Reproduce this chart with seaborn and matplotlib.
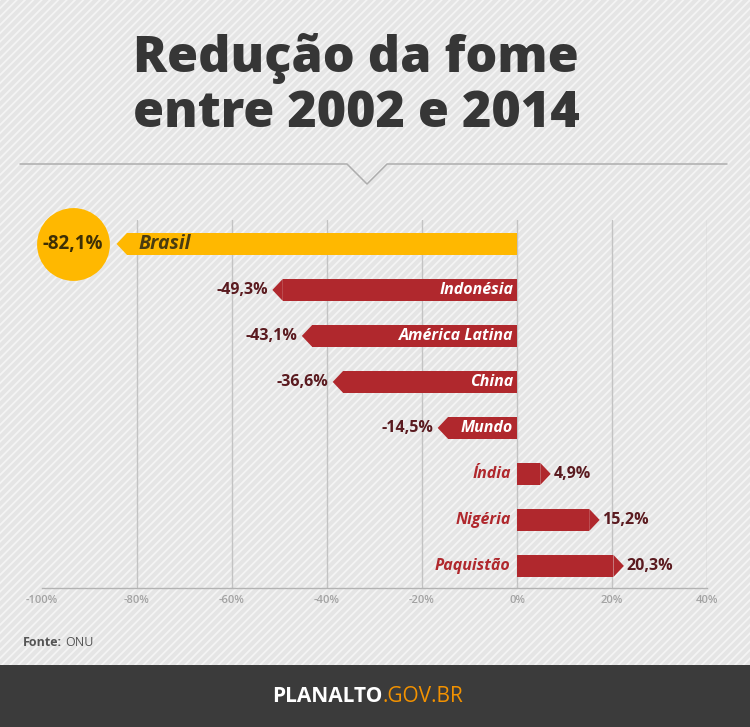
import matplotlib
matplotlib.use("Agg")
import matplotlib.pyplot as plt
from matplotlib.patches import Polygon, Rectangle
import seaborn as sns

# data
countries = ['Brasil', 'Indonésia', 'América Latina', 'China', 'Mundo', 'Índia', 'Nigéria', 'Paquistão']
changes = [-82.1, -49.3, -43.1, -36.6, -14.5, 4.9, 15.2, 20.3]
xticks = [-100, -80, -60, -40, -20, 0, 20, 40]
xtick_labels = ['-100%', '-80%', '-60%', '-40%', '-20%', '0%', '20%', '40%']

YELLOW = '#ffb800'
RED = '#b0282d'
palette = {c: (YELLOW if c == 'Brasil' else RED) for c in countries}

sns.set_theme(style='white')
plt.rcParams['font.family'] = ['Open Sans', 'DejaVu Sans']
plt.rcParams['hatch.linewidth'] = 1.3
plt.rcParams['hatch.color'] = '#f4f4f4'

W, H = 750, 727
fig = plt.figure(figsize=(W / 100, H / 100), dpi=100)
fig.patch.set_facecolor('#e5e5e5')

# background / decoration layer in pixel coordinates
bg = fig.add_axes([0, 0, 1, 1], zorder=0)
bg.set_xlim(0, W)
bg.set_ylim(H, 0)
bg.axis('off')
bg.add_patch(Rectangle((0, 0), W, H, facecolor='#e5e5e5', edgecolor='#f4f4f4', hatch='////', lw=0))
bg.add_patch(Rectangle((0, 665), W, H - 665, facecolor='#3b3b3b', lw=0, zorder=2))
bg.plot([20, 347, 367, 387, 727], [164, 164, 184, 164, 164], color='#adadad', lw=1.1)
bg.text(133, 72, 'Redução da fome', fontsize=36.2, fontweight='heavy', color='#363636', va='baseline')
bg.text(133, 127, 'entre 2002 e 2014', fontsize=36.2, fontweight='heavy', color='#363636', va='baseline')
bg.text(23, 643, 'Fonte:', fontsize=9, fontweight='bold', color='#555555', va='center')
bg.text(65, 643, 'ONU', fontsize=9, color='#555555', va='center')
bg.text(383, 697, 'PLANALTO', fontsize=15, fontweight='bold', color='white', ha='right', va='center', zorder=3)
bg.text(383, 697, '.GOV.BR', fontsize=15, color='#f39200', ha='left', va='center', zorder=3)

# chart axes: 0% at x=517px, 4.75 px per percent
ax = fig.add_axes([42 / W, 1 - 588 / H, 665 / W, 368 / H], zorder=1)
ax.set_facecolor('none')
bar_h = 0.48
sns.barplot(x=changes, y=countries, hue=countries, palette=palette, orient='h',
            width=bar_h, linewidth=0, saturation=1, legend=False, ax=ax, zorder=3)
ax.set_xlim(-100, 40)
ax.set_ylim(7.48, -0.52)

for g in xticks[1:]:
    ax.axvline(g, color='#c3c3c3', lw=1, zorder=1)

tip = 2.2
for i, (c, v) in enumerate(zip(countries, changes)):
    s = 1 if v > 0 else -1
    ax.add_patch(Polygon([(v, i - bar_h / 2), (v + s * tip, i), (v, i + bar_h / 2)],
                         closed=True, facecolor=palette[c], lw=0, zorder=3, clip_on=False))
    lab = f"{abs(v):.1f}".replace('.', ',') + '%'
    lab = ('-' if v < 0 else '') + lab
    if c == 'Brasil':
        ax.scatter([v - 11.4], [i], s=2750, color=YELLOW, lw=0, zorder=4, clip_on=False)
        ax.text(v - 11.4, i, lab, fontsize=13.5, fontweight='bold', color='#3d2f05',
                ha='center', va='center', zorder=5)
        ax.text(v + 2.5, i, c, fontsize=14, fontweight='bold', style='italic',
                color='#4a3c10', ha='left', va='center', zorder=5)
    elif v < 0:
        ax.text(v - tip - 1.0, i, lab, fontsize=11.5, fontweight='bold', color='#5a1a1f',
                ha='right', va='center', zorder=5)
        ax.text(-0.8, i, c, fontsize=11.5, fontweight='bold', style='italic',
                color='white', ha='right', va='center', zorder=5)
    else:
        ax.text(v + tip + 0.6, i, lab, fontsize=11.5, fontweight='bold', color='#5a1a1f',
                ha='left', va='center', zorder=5)
        ax.text(-1.3, i, c, fontsize=11.5, fontweight='bold', style='italic',
                color=RED, ha='right', va='center', zorder=5)

ax.set_xticks(xticks)
ax.set_xticklabels(xtick_labels, fontsize=8, fontweight='semibold', color='#a3a3a3')
ax.tick_params(axis='x', length=0, pad=5)
ax.set_yticks([])
ax.set_xlabel('')
ax.set_ylabel('')
for sp in ['top', 'left', 'right']:
    ax.spines[sp].set_visible(False)
ax.spines['bottom'].set_color('#b3b3b3')
ax.spines['bottom'].set_linewidth(1)

fig.savefig('out.png', dpi=100, facecolor=fig.get_facecolor())
